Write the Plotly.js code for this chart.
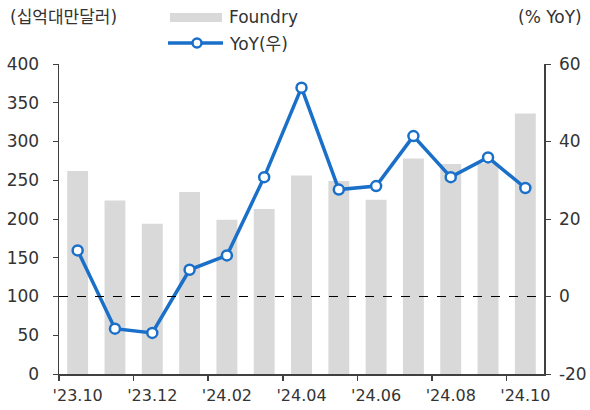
<!DOCTYPE html>
<html>
<head>
<meta charset="utf-8">
<script src="https://cdn.plot.ly/plotly-3.0.1.min.js"></script>
<style>html,body{margin:0;padding:0;background:#fff}#chart{width:590px;height:410px}</style>
</head>
<body>
<div id="chart"></div>
<script>
const categories = ["'23.10","'23.11","'23.12","'24.01","'24.02","'24.03","'24.04","'24.05","'24.06","'24.07","'24.08","'24.09","'24.10"];
const foundry = [262, 224, 194, 235, 199, 213, 256, 249, 225, 278, 271, 272, 336];
const yoy = [11.9, -8.3, -9.4, 6.9, 10.6, 30.8, 53.9, 27.6, 28.5, 41.4, 30.8, 35.9, 28.0];
const leftTicks = [0, 50, 100, 150, 200, 250, 300, 350, 400];
const rightTicks = [-20, 0, 20, 40, 60];
const seriesNames = ['Foundry', 'YoY(우)'];
const leftUnit = '(십억대만달러)';
const rightUnit = '(% YoY)';

const W = 590, H = 410;
const M = {l: 59, r: 46, t: 64, b: 36};
const PW = W - M.l - M.r, PH = H - M.t - M.b;
const px = x => (x - M.l) / PW;
const py = y => (H - M.b - y) / PH;

const xs = categories.map((c, i) => i);
const labelIdx = xs.filter(i => i % 2 === 0);
const boundaries = labelIdx.map(i => i - 0.5);
const font = "DejaVu Sans, Noto Sans CJK KR, sans-serif";
const txt = '#333333';
const axisColor = '#404040';
const blue = '#1a70c8';

const traces = [
  {type: 'bar', x: xs, y: foundry, name: seriesNames[0], marker: {color: '#d9d9d9'}, width: 0.56, yaxis: 'y', showlegend: false},
  {type: 'scatter', mode: 'lines+markers', x: xs, y: yoy, name: seriesNames[1], yaxis: 'y2', showlegend: false,
   line: {color: blue, width: 3.5},
   marker: {size: 10, color: '#ffffff', line: {color: blue, width: 2.5}}}
];

const layout = {
  width: W, height: H,
  margin: {l: M.l, r: M.r, t: M.t, b: M.b, autoexpand: false},
  paper_bgcolor: '#fff', plot_bgcolor: '#fff',
  font: {family: font, size: 17, color: txt},
  showlegend: false,
  xaxis: {
    range: [-0.5, 12.5], tickmode: 'array', tickvals: labelIdx, ticktext: labelIdx.map(i => categories[i]),
    ticks: '', showline: true, linecolor: axisColor, linewidth: 1.5, showgrid: false, zeroline: false,
    tickfont: {size: 16, color: txt}, ticklabelstandoff: 6,
    minor: {tickmode: 'array', tickvals: boundaries, ticks: 'outside', ticklen: 5, tickcolor: axisColor, tickwidth: 1.5, showgrid: false}
  },
  yaxis: {
    range: [0, 400], tickmode: 'array', tickvals: leftTicks, ticktext: leftTicks.map(String), ticks: 'outside', ticklen: 5,
    tickcolor: axisColor, showline: true, linecolor: axisColor, linewidth: 1.5, showgrid: false, zeroline: false,
    tickfont: {size: 17, color: txt}, ticklabelstandoff: 10
  },
  yaxis2: {
    overlaying: 'y', side: 'right', range: [-20, 60], tickmode: 'array', tickvals: rightTicks, ticktext: rightTicks.map(String),
    ticks: 'outside', ticklen: 5, tickcolor: axisColor, showline: true, linecolor: axisColor, linewidth: 1.5,
    showgrid: false, zeroline: false, tickfont: {size: 17, color: txt}, ticklabelstandoff: 5
  },
  shapes: [
    {type: 'line', xref: 'paper', x0: 0, x1: 1, yref: 'y2', y0: 0, y1: 0, line: {color: '#000', width: 1, dash: 'dash'}, layer: 'above'},
    {type: 'rect', xref: 'paper', yref: 'paper', x0: px(170), x1: px(222), y0: py(22), y1: py(13), fillcolor: '#d9d9d9', line: {width: 0}},
    {type: 'line', xref: 'paper', yref: 'paper', x0: px(168), x1: px(223), y0: py(43), y1: py(43), line: {color: blue, width: 3.5}},
    {type: 'circle', xref: 'paper', yref: 'paper', x0: px(192.5), x1: px(201.5), y0: py(47.5), y1: py(38.5), fillcolor: '#fff', line: {color: blue, width: 2.5}}
  ],
  annotations: [
    {text: leftUnit, xref: 'paper', yref: 'paper', x: px(8), y: py(17), xanchor: 'left', yanchor: 'middle', showarrow: false, font: {size: 17, color: txt}},
    {text: rightUnit, xref: 'paper', yref: 'paper', x: px(584), y: py(17), xanchor: 'right', yanchor: 'middle', showarrow: false, font: {size: 17, color: txt}},
    {text: seriesNames[0], xref: 'paper', yref: 'paper', x: px(227), y: py(17), xanchor: 'left', yanchor: 'middle', showarrow: false, font: {size: 17, color: txt}},
    {text: seriesNames[1], xref: 'paper', yref: 'paper', x: px(227), y: py(44), xanchor: 'left', yanchor: 'middle', showarrow: false, font: {size: 17, color: txt}}
  ]
};

Plotly.newPlot('chart', traces, layout, {displayModeBar: false, staticPlot: true});
</script>
</body>
</html>
